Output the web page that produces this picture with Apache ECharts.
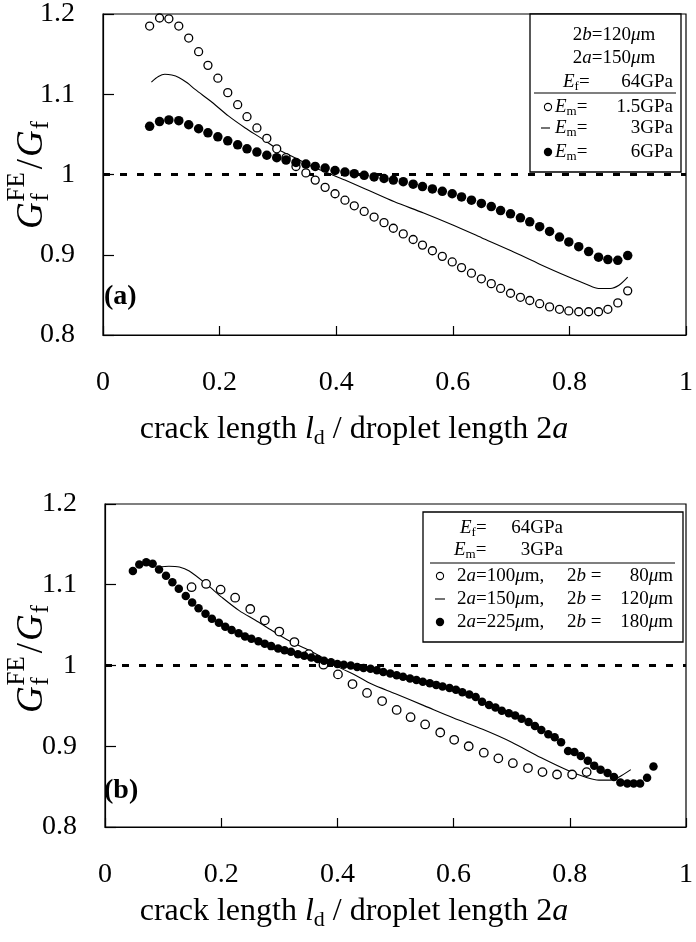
<!DOCTYPE html>
<html>
<head>
<meta charset="utf-8">
<script src="https://cdn.jsdelivr.net/npm/echarts@6/dist/echarts.min.js"></script>
<style>
html, body { margin: 0; padding: 0; background: #fff; }
#chart { width: 696px; height: 942px; }
</style>
</head>
<body>
<div id="chart"></div>
<script>
// Shared axis ticks
const xTicks = [0, 0.2, 0.4, 0.6, 0.8, 1];
const yTicks = [0.8, 0.9, 1, 1.1, 1.2];

// (a) 2b = 120 um, 2a = 150 um, Ef = 64 GPa; matrix modulus varied
const aX = [0.080, 0.097, 0.113, 0.130, 0.147, 0.164, 0.180, 0.197, 0.214, 0.231,
            0.247, 0.264, 0.281, 0.298, 0.314, 0.331, 0.348, 0.364, 0.381, 0.398,
            0.415, 0.431, 0.448, 0.465, 0.482, 0.498, 0.515, 0.532, 0.548, 0.565,
            0.582, 0.599, 0.615, 0.632, 0.649, 0.666, 0.682, 0.699, 0.716, 0.732,
            0.749, 0.766, 0.783, 0.799, 0.816, 0.833, 0.850, 0.866, 0.883, 0.900];
// Em = 1.5 GPa (open circles)
const aSoft = [1.185, 1.195, 1.194, 1.185, 1.170, 1.153, 1.136, 1.120, 1.102, 1.087,
               1.072, 1.058, 1.045, 1.032, 1.021, 1.010, 1.002, 0.993, 0.984, 0.976,
               0.968, 0.961, 0.954, 0.947, 0.940, 0.933, 0.926, 0.919, 0.912, 0.905,
               0.898, 0.891, 0.884, 0.877, 0.870, 0.864, 0.858, 0.852, 0.847, 0.843,
               0.839, 0.835, 0.832, 0.830, 0.829, 0.829, 0.829, 0.832, 0.840, 0.855];
// Em = 6 GPa (filled circles)
const aStiff = [1.060, 1.066, 1.068, 1.067, 1.062, 1.057, 1.052, 1.047, 1.042, 1.037,
                1.032, 1.028, 1.024, 1.021, 1.018, 1.015, 1.013, 1.010, 1.008, 1.005,
                1.003, 1.001, 0.999, 0.997, 0.995, 0.993, 0.991, 0.988, 0.985, 0.982,
                0.979, 0.976, 0.972, 0.968, 0.964, 0.960, 0.955, 0.951, 0.946, 0.941,
                0.935, 0.929, 0.922, 0.916, 0.910, 0.904, 0.897, 0.894, 0.893, 0.899];
// Em = 3 GPa (solid line)
const aMidX = [0.083, 0.095, 0.106, 0.118, 0.130, 0.145, 0.158, 0.187, 0.215, 0.244,
               0.272, 0.301, 0.329, 0.358, 0.386, 0.415, 0.450, 0.500, 0.550, 0.600,
               0.650, 0.700, 0.750, 0.800, 0.830, 0.850, 0.870, 0.885, 0.900];
const aMid = [1.115, 1.122, 1.125, 1.124, 1.121, 1.114, 1.106, 1.090, 1.073, 1.058,
              1.045, 1.031, 1.021, 1.010, 1.002, 0.993, 0.982, 0.966, 0.952, 0.937,
              0.921, 0.905, 0.888, 0.872, 0.863, 0.858, 0.858, 0.862, 0.872];

// (b) Ef = 64 GPa, Em = 3 GPa; droplet size varied
// 2a = 100 um, 2b = 80 um (open circles)
const bSmallX = [0.149, 0.174, 0.199, 0.224, 0.250, 0.275, 0.300, 0.326, 0.351, 0.376,
                 0.401, 0.426, 0.451, 0.477, 0.502, 0.526, 0.551, 0.577, 0.601, 0.626,
                 0.652, 0.677, 0.702, 0.728, 0.753, 0.778, 0.804, 0.829];
const bSmall = [1.097, 1.101, 1.094, 1.084, 1.070, 1.056, 1.042, 1.029, 1.014, 1.001,
                0.989, 0.977, 0.966, 0.956, 0.945, 0.936, 0.927, 0.917, 0.908, 0.900,
                0.892, 0.885, 0.879, 0.873, 0.868, 0.865, 0.865, 0.868];
// 2a = 150 um, 2b = 120 um (solid line)
const bMidX = [0.093, 0.110, 0.128, 0.145, 0.174, 0.202, 0.231, 0.259, 0.288, 0.316,
               0.345, 0.374, 0.402, 0.431, 0.459, 0.500, 0.550, 0.600, 0.650, 0.700,
               0.750, 0.800, 0.830, 0.850, 0.870, 0.885, 0.905];
const bMid = [1.122, 1.123, 1.122, 1.117, 1.101, 1.084, 1.068, 1.056, 1.043, 1.031,
              1.021, 1.010, 0.998, 0.988, 0.977, 0.965, 0.950, 0.935, 0.921, 0.905,
              0.886, 0.869, 0.861, 0.858, 0.858, 0.862, 0.871];
// 2a = 225 um, 2b = 180 um (filled circles)
const bLargeX = [0.048, 0.059, 0.071, 0.082, 0.093, 0.105, 0.116, 0.127, 0.139, 0.150,
                 0.161, 0.173, 0.184, 0.196, 0.207, 0.218, 0.230, 0.241, 0.252, 0.264,
                 0.275, 0.286, 0.298, 0.309, 0.320, 0.332, 0.343, 0.355, 0.366, 0.377,
                 0.389, 0.400, 0.411, 0.423, 0.434, 0.445, 0.457, 0.468, 0.479, 0.491,
                 0.502, 0.513, 0.525, 0.536, 0.547, 0.559, 0.570, 0.581, 0.593, 0.604,
                 0.615, 0.627, 0.638, 0.649, 0.661, 0.672, 0.683, 0.695, 0.706, 0.717,
                 0.729, 0.740, 0.751, 0.763, 0.774, 0.785, 0.797, 0.808, 0.819, 0.831,
                 0.842, 0.853, 0.865, 0.876, 0.887, 0.899, 0.910, 0.921, 0.933, 0.944];
const bLarge = [1.117, 1.125, 1.128, 1.126, 1.119, 1.111, 1.103, 1.095, 1.086, 1.078,
                1.071, 1.064, 1.058, 1.053, 1.048, 1.044, 1.040, 1.036, 1.033, 1.030,
                1.027, 1.024, 1.021, 1.019, 1.017, 1.014, 1.012, 1.010, 1.008, 1.006,
                1.004, 1.002, 1.001, 1.000, 0.998, 0.997, 0.996, 0.994, 0.992, 0.990,
                0.988, 0.986, 0.984, 0.982, 0.980, 0.978, 0.976, 0.974, 0.972, 0.970,
                0.967, 0.964, 0.961, 0.955, 0.951, 0.948, 0.944, 0.941, 0.938, 0.934,
                0.930, 0.925, 0.920, 0.915, 0.911, 0.905, 0.894, 0.893, 0.888, 0.882,
                0.876, 0.871, 0.867, 0.862, 0.855, 0.854, 0.854, 0.854, 0.861, 0.875];

const refLevel = 1;

const F = "'Liberation Serif', 'Times New Roman', serif";
const zip = (xs, ys) => xs.map((x, i) => [x, ys[i]]);

const fmtX = v => (v === 0 || v === 1) ? String(v) : v.toFixed(1);
const fmtY = v => (Math.abs(v - 1) < 1e-9) ? '1' : v.toFixed(1);

const grids = [
  { left: 103, top: 14, width: 587, height: 321 },
  { left: 105, top: 504, width: 584, height: 323 }
];

function xAxisFor(gi) {
  return {
    type: 'value', gridIndex: gi, min: 0, max: 1, interval: 0.2,
    axisLine: { show: true, onZero: false, lineStyle: { color: '#000', width: 1.2 } },
    axisTick: { show: true, inside: true, length: 9, lineStyle: { color: '#000', width: 1.2 } },
    splitLine: { show: false },
    axisLabel: { fontFamily: F, fontSize: 28, color: '#000', margin: 34, formatter: fmtX }
  };
}
function yAxisFor(gi) {
  return {
    type: 'value', gridIndex: gi, min: 0.8, max: 1.2, interval: 0.1,
    axisLine: { show: true, onZero: false, lineStyle: { color: '#000', width: 1.2 } },
    axisTick: { show: true, inside: true, length: 11, lineStyle: { color: '#000', width: 1.2 } },
    splitLine: { show: false },
    axisLabel: { fontFamily: F, fontSize: 28, color: '#000', margin: 28, formatter: fmtY }
  };
}

function openDots(data, gi, size) {
  return {
    type: 'scatter', xAxisIndex: gi, yAxisIndex: gi, data, symbol: 'circle', symbolSize: size,
    itemStyle: { color: '#fff', borderColor: '#000', borderWidth: 1.3, opacity: 1 }, z: 4, silent: true
  };
}
function filledDots(data, gi, size) {
  return {
    type: 'scatter', xAxisIndex: gi, yAxisIndex: gi, data, symbol: 'circle', symbolSize: size,
    itemStyle: { color: '#000', borderColor: '#000', borderWidth: 0, opacity: 1 }, z: 5, silent: true
  };
}
function solid(data, gi) {
  return {
    type: 'line', xAxisIndex: gi, yAxisIndex: gi, data, symbol: 'none', smooth: 0.3,
    lineStyle: { color: '#000', width: 1.1 }, z: 3, silent: true
  };
}
function dashedRef(gi) {
  return {
    type: 'line', xAxisIndex: gi, yAxisIndex: gi, data: [[0, refLevel], [1, refLevel]], symbol: 'none',
    lineStyle: { color: '#000', width: 3, type: [7, 10] }, z: 2, silent: true
  };
}

// ---- text helpers -------------------------------------------------------
const mctx = document.createElement('canvas').getContext('2d');
function tw(text, size, italic) {
  mctx.font = (italic ? 'italic ' : '') + size + 'px ' + F;
  return mctx.measureText(text).width;
}

function richSet(fs, sub) {
  return {
    r: { fontFamily: F, fontSize: fs, lineHeight: Math.round(fs * 1.2), fill: '#000' },
    i: { fontFamily: F, fontSize: fs, fontStyle: 'italic', lineHeight: Math.round(fs * 1.2), fill: '#000' },
    s: { fontFamily: F, fontSize: sub, lineHeight: sub, verticalAlign: 'bottom', fill: '#000' }
  };
}
const legRich = richSet(19, 13);
const titleRich = richSet(32, 22);

function rtext(x, y, text, rich, align) {
  return {
    type: 'text', x, y, z: 30,
    style: { text, rich, align: align || 'left', verticalAlign: 'middle', fill: '#000',
             fontFamily: F, fontSize: rich.r.fontSize }
  };
}
function hline(x1, x2, y, w) {
  return { type: 'line', z: 30, shape: { x1, y1: y, x2, y2: y }, style: { stroke: '#000', lineWidth: w || 1 } };
}
function box(x, y, w, h) {
  return { type: 'rect', z: 25, shape: { x, y, width: w, height: h },
           style: { fill: '#fff', stroke: '#000', lineWidth: 1.3 } };
}
function ring(cx, cy, r) {
  return { type: 'circle', z: 30, shape: { cx, cy, r }, style: { fill: '#fff', stroke: '#000', lineWidth: 1.1 } };
}
function dot(cx, cy, r) {
  return { type: 'circle', z: 30, shape: { cx, cy, r }, style: { fill: '#000' } };
}

// Rotated ordinate title  G_f^FE / G_f
function yTitle(cx, cy) {
  const fs = 37, ss = 25;
  const parts = [];
  let x = 0;
  parts.push({ t: 'G', x, y: 0, s: fs, it: true }); x += tw('G', fs, true);
  parts.push({ t: 'FE', x: x + 1, y: -fs * 0.40, s: ss });
  parts.push({ t: 'f', x: x + 1, y: fs * 0.26, s: ss });
  x += Math.max(tw('FE', ss), tw('f', ss)) + 4;
  parts.push({ t: '/', x, y: 0, s: fs }); x += tw('/', fs) + 2;
  parts.push({ t: 'G', x, y: 0, s: fs, it: true }); x += tw('G', fs, true);
  parts.push({ t: 'f', x: x + 1, y: fs * 0.26, s: ss }); x += tw('f', ss) + 1;
  const total = x;
  return {
    type: 'group', x: cx, y: cy, rotation: Math.PI / 2, z: 30,
    children: parts.map(p => ({
      type: 'text', x: p.x - total / 2, y: p.y,
      style: { text: p.t, fontFamily: F, fontSize: p.s, fontStyle: p.it ? 'italic' : 'normal',
               fill: '#000', align: 'left', verticalAlign: 'middle' }
    }))
  };
}

const xTitleText = '{r|crack length }{i|l}{s|d}{r| / droplet length 2}{i|a}';
const emTxt = '{i|E}{s|m}{r|=}';
const efTxt = '{i|E}{s|f}{r|=}';

const graphics = [
  // ordinate titles
  yTitle(32, 175),
  yTitle(32, 659),
  // abscissa titles
  rtext(354, 430, xTitleText, titleRich, 'center'),
  rtext(354, 912, xTitleText, titleRich, 'center'),
  // panel tags
  { type: 'text', x: 104, y: 297, z: 30, style: { text: '(a)', fontFamily: F, fontSize: 28, fontWeight: 'bold', fill: '#000', verticalAlign: 'middle' } },
  { type: 'text', x: 104, y: 791, z: 30, style: { text: '(b)', fontFamily: F, fontSize: 28, fontWeight: 'bold', fill: '#000', verticalAlign: 'middle' } },

  // legend (a)
  box(530, 14, 151, 158),
  rtext(614, 35, '{r|2}{i|b}{r|=120}{i|μ}{r|m}', legRich, 'center'),
  rtext(614, 58, '{r|2}{i|a}{r|=150}{i|μ}{r|m}', legRich, 'center'),
  rtext(563, 82, efTxt, legRich, 'left'),
  rtext(673, 82, '{r|64GPa}', legRich, 'right'),
  hline(534, 676, 93, 1.2),
  ring(548, 107, 3.6),
  rtext(555, 107, emTxt, legRich, 'left'),
  rtext(673, 107, '{r|1.5GPa}', legRich, 'right'),
  hline(541, 550, 128, 1.1),
  rtext(555, 128, emTxt, legRich, 'left'),
  rtext(673, 128, '{r|3GPa}', legRich, 'right'),
  dot(548, 152, 4.2),
  rtext(555, 152, emTxt, legRich, 'left'),
  rtext(673, 152, '{r|6GPa}', legRich, 'right'),

  // legend (b)
  box(423, 512, 260, 130),
  rtext(460, 528, efTxt, legRich, 'left'),
  rtext(563, 528, '{r|64GPa}', legRich, 'right'),
  rtext(454, 550, emTxt, legRich, 'left'),
  rtext(563, 550, '{r|3GPa}', legRich, 'right'),
  hline(430, 675, 563, 1.2),
  ring(440, 576, 3.6),
  rtext(457, 576, '{r|2}{i|a}{r|=100}{i|μ}{r|m,}', legRich, 'left'),
  rtext(567, 576, '{r|2}{i|b}{r| =}', legRich, 'left'),
  rtext(673, 576, '{r|80}{i|μ}{r|m}', legRich, 'right'),
  hline(435, 445, 599, 1.1),
  rtext(457, 599, '{r|2}{i|a}{r|=150}{i|μ}{r|m,}', legRich, 'left'),
  rtext(567, 599, '{r|2}{i|b}{r| =}', legRich, 'left'),
  rtext(673, 599, '{r|120}{i|μ}{r|m}', legRich, 'right'),
  dot(440, 622, 4.2),
  rtext(457, 622, '{r|2}{i|a}{r|=225}{i|μ}{r|m,}', legRich, 'left'),
  rtext(567, 622, '{r|2}{i|b}{r| =}', legRich, 'left'),
  rtext(673, 622, '{r|180}{i|μ}{r|m}', legRich, 'right')
];

const chart = echarts.init(document.getElementById('chart'), null, { renderer: 'canvas' });
chart.setOption({
  animation: false,
  backgroundColor: '#fff',
  grid: grids.map(g => Object.assign({ show: true, borderColor: '#000', borderWidth: 1.2, backgroundColor: 'transparent' }, g)),
  xAxis: [xAxisFor(0), xAxisFor(1)],
  yAxis: [yAxisFor(0), yAxisFor(1)],
  series: [
    dashedRef(0),
    solid(zip(aMidX, aMid), 0),
    openDots(zip(aX, aSoft), 0, 8),
    filledDots(zip(aX, aStiff), 0, 9.5),
    dashedRef(1),
    solid(zip(bMidX, bMid), 1),
    openDots(zip(bSmallX, bSmall), 1, 8.5),
    filledDots(zip(bLargeX, bLarge), 1, 8.5)
  ],
  graphic: graphics
});
</script>
</body>
</html>
